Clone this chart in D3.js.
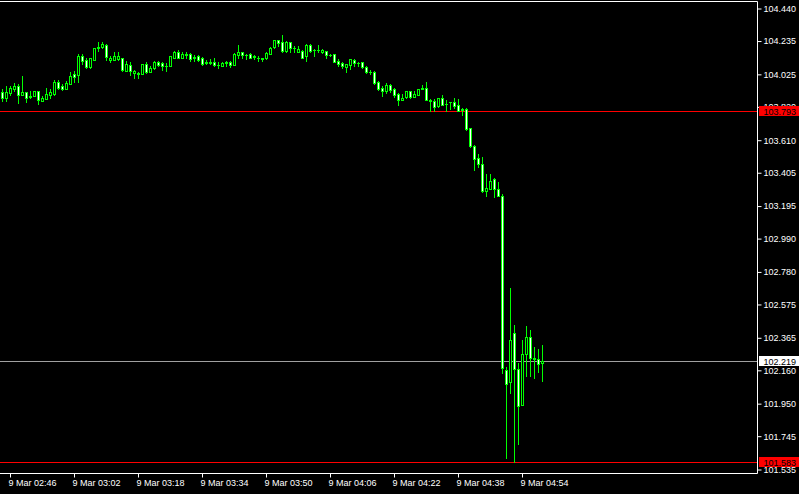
<html>
<script src='https://d3js.org/d3.v7.min.js'></script>
<style>
  body { margin: 0; background: #000; }
  svg { display: block; }
  text { font-family: 'Liberation Sans', Arial, sans-serif; font-size: 9px; }
</style>
<body>
<svg width=799 height=494></svg>
<script>
// M1 candles, 9 Mar 02:44 .. 04:59
const startTime = new Date(2024, 2, 9, 2, 44);

const open = [103.911,103.875,103.906,103.932,103.949,103.894,103.911,103.882,103.887,103.922,
  103.859,103.869,103.896,103.900,103.978,103.949,103.932,103.963,104.026,104.022,
  104.138,104.117,104.073,104.114,104.188,104.199,104.211,104.114,104.114,104.120,
  104.127,104.048,104.085,104.034,104.030,104.026,104.092,104.043,104.064,104.104,
  104.095,104.076,104.079,104.131,104.169,104.127,104.150,104.152,104.136,104.142,
  104.127,104.098,104.096,104.106,104.087,104.079,104.098,104.106,104.085,104.148,
  104.169,104.146,104.152,104.136,104.131,104.125,104.127,104.152,104.196,104.243,
  104.226,104.174,104.226,104.190,104.169,104.174,104.138,104.211,104.180,104.176,
  104.165,104.174,104.150,104.155,104.112,104.095,104.070,104.085,104.117,104.097,
  104.100,104.070,104.041,104.043,103.974,103.938,103.917,103.959,103.934,103.900,
  103.862,103.881,103.919,103.884,103.898,103.934,103.940,103.862,103.860,103.824,
  103.873,103.838,103.848,103.850,103.829,103.804,103.804,103.684,103.572,103.495,
  103.463,103.289,103.300,103.363,103.300,103.257,102.159,102.086,102.397,102.166,
  101.941,102.260,102.372,102.237,102.233,102.207];

const high = [103.930,103.949,103.953,103.972,103.963,104.012,103.911,103.917,103.922,103.922,
  103.886,103.942,103.932,103.988,103.991,103.963,103.985,104.041,104.048,104.156,
  104.152,104.131,104.131,104.194,104.226,104.230,104.215,104.142,104.163,104.163,
  104.127,104.111,104.100,104.051,104.043,104.092,104.102,104.076,104.111,104.111,
  104.106,104.095,104.138,104.174,104.177,104.169,104.169,104.158,104.148,104.148,
  104.133,104.117,104.120,104.131,104.100,104.102,104.112,104.111,104.158,104.207,
  104.169,104.155,104.158,104.148,104.138,104.127,104.165,104.199,104.243,104.243,
  104.270,104.237,104.232,104.201,104.201,104.180,104.215,104.215,104.186,104.207,
  104.186,104.174,104.155,104.155,104.119,104.100,104.089,104.121,104.121,104.106,
  104.100,104.075,104.054,104.049,103.980,103.949,103.969,103.963,103.938,103.906,
  103.904,103.923,103.923,103.919,103.934,103.961,103.978,103.871,103.867,103.873,
  103.894,103.862,103.850,103.873,103.867,103.810,103.810,103.688,103.577,103.520,
  103.503,103.400,103.400,103.373,103.346,103.274,102.183,102.680,102.443,102.208,
  102.348,102.438,102.411,102.309,102.292,102.317];

const low = [103.860,103.860,103.896,103.922,103.843,103.894,103.848,103.878,103.887,103.837,
  103.854,103.869,103.879,103.896,103.932,103.928,103.932,103.963,103.974,103.974,
  104.089,104.064,104.064,104.114,104.174,104.194,104.114,104.100,104.114,104.118,
  104.048,104.048,104.022,104.001,104.001,104.026,104.032,104.043,104.060,104.075,
  104.054,104.048,104.079,104.127,104.127,104.127,104.127,104.112,104.110,104.110,
  104.085,104.092,104.089,104.075,104.068,104.075,104.075,104.070,104.085,104.131,
  104.127,104.120,104.127,104.120,104.112,104.112,104.121,104.152,104.190,104.201,
  104.169,104.165,104.169,104.165,104.169,104.127,104.112,104.169,104.138,104.169,
  104.158,104.131,104.138,104.102,104.075,104.068,104.043,104.060,104.075,104.075,
  104.068,104.032,104.029,103.966,103.928,103.886,103.906,103.913,103.881,103.833,
  103.862,103.877,103.873,103.884,103.898,103.930,103.862,103.797,103.797,103.818,
  103.829,103.797,103.804,103.814,103.793,103.772,103.673,103.569,103.421,103.443,
  103.283,103.257,103.300,103.254,103.257,102.145,101.609,102.019,101.583,101.693,
  101.941,102.123,102.122,102.111,102.149,102.092];

const close = [103.879,103.911,103.936,103.949,103.894,103.911,103.879,103.888,103.922,103.862,
  103.879,103.900,103.915,103.974,103.942,103.932,103.969,104.012,104.010,104.138,
  104.111,104.073,104.125,104.194,104.196,104.219,104.136,104.131,104.138,104.140,
  104.051,104.089,104.048,104.048,104.036,104.092,104.043,104.068,104.106,104.085,
  104.075,104.078,104.138,104.169,104.127,104.152,104.152,104.123,104.130,104.117,
  104.092,104.102,104.102,104.085,104.085,104.095,104.100,104.081,104.155,104.165,
  104.144,104.150,104.131,104.142,104.128,104.124,104.158,104.194,104.243,104.221,
  104.174,104.226,104.190,104.188,104.186,104.131,104.211,104.175,104.177,104.178,
  104.180,104.148,104.148,104.102,104.089,104.075,104.089,104.121,104.095,104.095,
  104.070,104.039,104.039,103.969,103.934,103.917,103.955,103.928,103.892,103.865,
  103.877,103.919,103.881,103.904,103.934,103.938,103.862,103.860,103.818,103.873,
  103.829,103.836,103.850,103.824,103.797,103.800,103.678,103.572,103.493,103.457,
  103.289,103.306,103.356,103.300,103.257,102.176,102.076,102.350,102.170,101.934,
  102.265,102.372,102.239,102.229,102.202,102.219];

const yTicks = [104.440,104.235,104.025,103.820,103.610,103.405,103.195,102.990,
  102.780,102.575,102.365,102.160,101.950,101.745,101.535];
const xTickTimes = ["02:46","03:02","03:18","03:34","03:50","04:06","04:22","04:38","04:54"];

const levelPrices = [103.793, 102.219, 101.583];
const levelColors = ["#ff0000", "#a0a0a0", "#ff0000"];
const labelFills = ["#ff0000", "#ffffff", "#ff0000"];

const svg = d3.select("svg");
const W = 757.5, H = 473.5;

const times = open.map((d, i) => d3.timeMinute.offset(startTime, i));
const x = d3.scaleTime()
  .domain([times[0], times[times.length - 1]])
  .range([2.5, 542.5]);
const y = d3.scaleLinear()
  .domain([101.535, 104.440])
  .range([469.5, 8.5]);
const py = v => Math.round(y(v)) + 0.5;

// horizontal levels
svg.append("g").selectAll("line")
  .data(levelPrices)
  .enter().append("line")
  .attr("x1", 0).attr("x2", W)
  .attr("y1", d => py(d)).attr("y2", d => py(d))
  .attr("stroke", (d, i) => levelColors[i])
  .attr("stroke-width", 1);

// candles
const g = svg.append("g");
times.forEach((t, i) => {
  const cx = Math.round(x(t) - 0.5) + 0.5;
  g.append("line")
    .attr("x1", cx).attr("x2", cx)
    .attr("y1", Math.round(y(high[i]))).attr("y2", Math.round(y(low[i])) + 1)
    .attr("stroke", "#00ff00");
  const top = py(Math.max(open[i], close[i]));
  const bot = py(Math.min(open[i], close[i]));
  if (bot - top < 1) {
    g.append("line")
      .attr("x1", cx - 1.5).attr("x2", cx + 1.5)
      .attr("y1", top).attr("y2", top)
      .attr("stroke", "#00ff00");
  } else {
    g.append("rect")
      .attr("x", cx - 1).attr("width", 2)
      .attr("y", top).attr("height", bot - top)
      .attr("fill", close[i] >= open[i] ? "#000" : "#fff")
      .attr("stroke", "#00ff00");
  }
});

// frame
svg.append("path")
  .attr("d", `M0,1.5H${W}V${H}H0`)
  .attr("fill", "none")
  .attr("stroke", "#fff");

// price axis
const yAxis = svg.append("g")
  .attr("transform", `translate(${W},0)`)
  .call(d3.axisRight(y).tickValues(yTicks).tickSize(4).tickPadding(2).tickFormat(d3.format(".3f")));
yAxis.select(".domain").remove();
yAxis.selectAll("line").attr("stroke", "#fff");
yAxis.selectAll("text").attr("fill", "#fff").style("font-size", "9px");

// time axis
const parseT = d3.timeParse("%H:%M");
const xTicks = xTickTimes.map(s => {
  const p = parseT(s);
  return new Date(2024, 2, 9, p.getHours(), p.getMinutes());
});
const xAxis = svg.append("g")
  .attr("transform", `translate(0,${H})`)
  .call(d3.axisBottom(x).tickValues(xTicks).tickSize(4).tickPadding(2).tickFormat(d3.timeFormat("%-d %b %H:%M")));
xAxis.select(".domain").remove();
xAxis.selectAll(".tick").attr("transform", d => `translate(${Math.round(x(d) - 0.5) + 0.5},0)`);
xAxis.selectAll("line").attr("stroke", "#fff");
xAxis.selectAll("text").attr("fill", "#fff").attr("text-anchor", "start").attr("x", -2).style("font-size", "9px");

// price labels on the axis
const lab = svg.append("g").selectAll("g")
  .data(levelPrices)
  .enter().append("g")
  .attr("transform", d => `translate(759,${py(d) - 0.5})`);
lab.append("rect")
  .attr("x", 0).attr("y", -5).attr("width", 40).attr("height", 10)
  .attr("fill", (d, i) => labelFills[i]);
lab.append("text")
  .attr("x", 4.5).attr("y", 3.5)
  .attr("fill", "#000")
  .text(d => d3.format(".3f")(d));
</script>
</body>
</html>
